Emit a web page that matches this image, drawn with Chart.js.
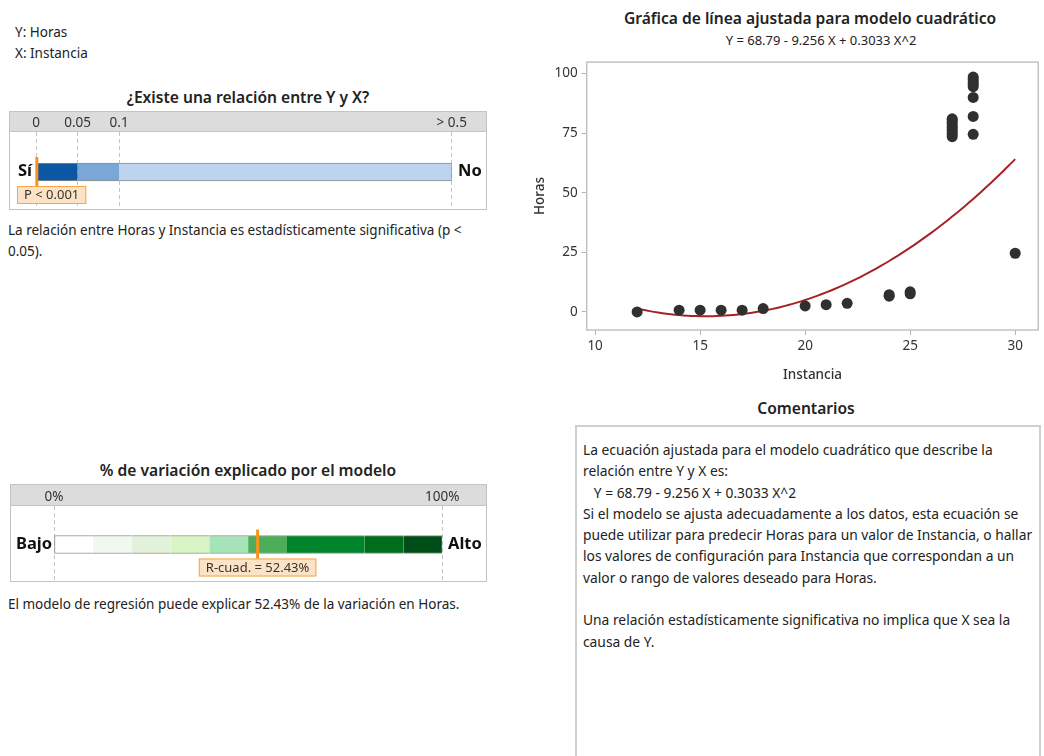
<!DOCTYPE html>
<html lang="es">
<head>
<meta charset="utf-8">
<script src="https://cdn.jsdelivr.net/npm/chart.js@4.4.1/dist/chart.umd.min.js"></script>
<style>
  body{margin:0;width:1044px;height:756px;overflow:hidden;background:#fff;position:relative;
       font-family:"Noto Sans","Open Sans",sans-serif;color:#222}
  .abs{position:absolute;white-space:nowrap}
  .t{font-size:13.5px;line-height:21px}
  .ttl{font-size:15.6px;font-weight:600;line-height:20px;text-align:center;color:#222}
  .box{position:absolute;box-sizing:border-box;border:1px solid #c3c3c3;overflow:hidden;background:#fff}
  .hdr{position:absolute;left:0;top:0;right:0;background:#dcdcdc;border-bottom:1px solid #c3c3c3}
  .box canvas{position:absolute;left:0;top:0}
  .side{position:absolute;font-weight:700;font-size:16.5px;line-height:20px;color:#111}
  #coment{position:absolute;left:575px;top:425px;width:466px;height:334px;box-sizing:border-box;
          border:2px solid #cfcfcf;padding:12px 0 0 6px;font-size:13.8px;line-height:21.3px;color:#222;
          white-space:nowrap}
</style>
</head>
<body>

<div class="abs t" style="left:15px;top:22px">Y: Horas<br>X: Instancia</div>

<div class="abs ttl" style="left:0;width:496px;top:87px">¿Existe una relación entre Y y X?</div>
<div class="box" style="left:9px;top:111px;width:478px;height:99px">
  <div class="hdr" style="height:19px"></div>
  <canvas id="pBar" width="476" height="100"></canvas>
</div>
<div class="side" style="left:18px;top:160px">Sí</div>
<div class="side" style="left:458px;top:160px">No</div>
<div class="abs t" style="left:8px;top:220px">La relación entre Horas y Instancia es estadísticamente significativa (p &lt;<br>0.05).</div>

<div class="abs ttl" style="left:0;width:496px;top:460px">% de variación explicado por el modelo</div>
<div class="box" style="left:10px;top:484px;width:477px;height:98px">
  <div class="hdr" style="height:20px"></div>
  <canvas id="r2Bar" width="475" height="98"></canvas>
</div>
<div class="side" style="left:16px;top:533px">Bajo</div>
<div class="side" style="left:448px;top:533px">Alto</div>
<div class="abs t" style="left:8px;top:594px">El modelo de regresión puede explicar 52.43% de la variación en Horas.</div>

<div class="abs ttl" style="left:560px;width:500px;top:8px">Gráfica de línea ajustada para modelo cuadrático</div>
<div class="abs" style="left:571px;width:500px;top:31px;font-size:13px;line-height:18px;text-align:center">Y = 68.79 - 9.256 X + 0.3033 X^2</div>
<canvas id="fit" width="514" height="340" style="position:absolute;left:530px;top:50px"></canvas>

<div class="abs ttl" style="left:576px;width:460px;top:398px">Comentarios</div>
<div id="coment">La ecuación ajustada para el modelo cuadrático que describe la<br>relación entre Y y X es:<br>&nbsp;&nbsp;&nbsp;Y = 68.79 - 9.256 X + 0.3033 X^2<br>Si el modelo se ajusta adecuadamente a los datos, esta ecuación se<br>puede utilizar para predecir Horas para un valor de Instancia, o hallar<br>los valores de configuración para Instancia que correspondan a un<br>valor o rango de valores deseado para Horas.<br><br>Una relación estadísticamente significativa no implica que X sea la<br>causa de Y.</div>

<script>
// Observed data: Instancia (X) and Horas (Y)
const instancia = [12, 14, 15, 16, 17, 18, 20, 21, 22, 24, 24, 25, 25,
                   27, 27, 27, 27, 27, 27, 27, 27, 27,
                   28, 28, 28, 28, 28, 28, 28, 28, 30];
const horas     = [0, 0.7, 0.7, 0.7, 0.7, 1.4, 2.5, 3.0, 3.6, 6.6, 7.2, 7.6, 8.4,
                   73.5, 74.5, 75.5, 76.5, 77.5, 78.5, 79.5, 80.5, 81.0,
                   74.5, 82.0, 90.0, 94.5, 95.5, 96.5, 97.5, 98.5, 24.6];

// Fitted quadratic model: Y = b0 + b1 X + b2 X^2
const fitCoef  = [68.79, -9.256, 0.3033];
const fitRange = [12, 30];

const xTicks = [10, 15, 20, 25, 30];
const yTicks = [0, 25, 50, 75, 100];

// p-value scale
const pTicks      = [0, 0.05, 0.1, 0.5];
const pTickLabels = ['0', '0.05', '0.1', '> 0.5'];
const pBands      = [0.05, 0.05, 0.4];
const pBandColors = ['#0b57a4', '#7aa6d8', '#bdd3ee'];
const pValue      = 0.001;
const pLabel      = 'P < 0.001';

// R-squared scale (%)
const r2Ticks      = [0, 100];
const r2TickLabels = ['0%', '100%'];
const r2Bands      = [10, 10, 10, 10, 10, 10, 20, 10, 10];
const r2BandColors = ['#ffffff', '#f1f8ef', '#e2f1da', '#d7f5c5', '#a6e3b9',
                      '#4dad5b', '#00842b', '#006d1d', '#004e17'];
const r2Value      = 52.43;

const FONT = '"Noto Sans","Open Sans",sans-serif';
Chart.defaults.font.family = FONT;
Chart.defaults.color = '#333';

// Orange indicator with its value label on the summary bars
const markerPlugin = {
  id: 'marker',
  afterDatasetsDraw(chart, args, o) {
    if (o.value === undefined) return;
    const ctx = chart.ctx;
    const bar = chart.getDatasetMeta(0).data[0];
    const top = bar.y - bar.height / 2, bot = bar.y + bar.height / 2;
    const x = chart.scales.x.getPixelForValue(o.value);
    ctx.save();
    ctx.strokeStyle = '#f7941d';
    ctx.lineWidth = 3;
    ctx.beginPath();
    ctx.moveTo(x, top - 6);
    ctx.lineTo(x, bot + 6);
    ctx.stroke();
    ctx.font = '13px ' + FONT;
    const w = ctx.measureText(o.label).width + 14, h = 18;
    let bx = Math.max(o.minLeft, x - w / 2);
    const by = bot + 5;
    ctx.fillStyle = '#fde3c6';
    ctx.fillRect(bx, by, w, h);
    ctx.strokeStyle = '#f7a545';
    ctx.lineWidth = 1;
    ctx.strokeRect(bx + 0.5, by + 0.5, w - 1, h - 1);
    ctx.fillStyle = '#333';
    ctx.textAlign = 'center';
    ctx.textBaseline = 'middle';
    ctx.fillText(o.label, bx + w / 2, by + h / 2 + 0.5);
    ctx.restore();
  }
};

function summaryBar(id, bands, colors, ticks, tickLabels, max, pad, hdrH, marker) {
  const last = bands.length - 1;
  return new Chart(document.getElementById(id), {
    type: 'bar',
    data: {
      labels: [''],
      datasets: bands.map((b, i) => ({
        data: [b],
        backgroundColor: colors[i],
        borderColor: '#8e8e8e',
        borderWidth: {top: 1, bottom: 1, left: i === 0 ? 1 : 0, right: i === last ? 1 : 0},
        borderSkipped: false,
        barThickness: 18,
        stack: 's'
      }))
    },
    options: {
      indexAxis: 'y',
      responsive: false, animation: false, devicePixelRatio: 1,
      layout: {padding: {left: pad[0], right: pad[1], top: 0, bottom: 0}},
      plugins: {legend: {display: false}, tooltip: {enabled: false}, marker: marker},
      scales: {
        x: {
          type: 'linear', position: 'top', min: 0, max: max, stacked: true,
          afterBuildTicks: s => { s.ticks = ticks.map(v => ({value: v})); },
          afterFit: s => { s.height = hdrH; },
          grid: {color: '#c4c4c4', drawTicks: false, lineWidth: 1},
          border: {display: false, dash: [4, 3]},
          ticks: {autoSkip: false, maxRotation: 0, padding: 1, color: '#333',
                  font: {size: 13.5}, callback: (v, i) => tickLabels[i]}
        },
        y: {display: false, stacked: true}
      }
    },
    plugins: [markerPlugin]
  });
}

summaryBar('pBar', pBands, pBandColors, pTicks, pTickLabels, 0.5, [26, 34.3], 20,
           {value: pValue, label: pLabel, minLeft: 7});
summaryBar('r2Bar', r2Bands, r2BandColors, r2Ticks, r2TickLabels, 100, [43, 43.7], 21,
           {value: r2Value, label: 'R-cuad. = ' + r2Value.toFixed(2) + '%', minLeft: 4});

// Scatter plot with fitted curve
const points = instancia.map((x, i) => ({x: x, y: horas[i]}));
const curve = [];
for (let x = fitRange[0]; x <= fitRange[1] + 1e-9; x += 0.2) {
  curve.push({x: x, y: fitCoef[0] + fitCoef[1] * x + fitCoef[2] * x * x});
}

const framePlugin = {
  id: 'frame',
  beforeDatasetsDraw(chart) {
    const a = chart.chartArea, ctx = chart.ctx;
    ctx.save();
    ctx.strokeStyle = '#c2c2c2';
    ctx.lineWidth = 1.5;
    ctx.strokeRect(a.left, a.top, a.right - a.left, a.bottom - a.top);
    ctx.restore();
  }
};

const axisCommon = {
  grid: {display: true, drawOnChartArea: false, drawTicks: true, tickLength: 5, color: '#b5b5b5'},
  border: {display: false},
};

new Chart(document.getElementById('fit'), {
  type: 'scatter',
  data: {
    datasets: [
      {data: points, pointRadius: 5.5, pointBackgroundColor: '#303030', pointBorderWidth: 0, order: 0},
      {data: curve, showLine: true, pointRadius: 0, borderColor: '#a52327', borderWidth: 2, order: 1}
    ]
  },
  options: {
    responsive: false, animation: false, devicePixelRatio: 1,
    layout: {padding: {left: 0, right: 5.7, top: 8.3, bottom: 0}},
    plugins: {legend: {display: false}, tooltip: {enabled: false}},
    scales: {
      x: Object.assign({}, axisCommon, {
        type: 'linear', min: 9.6, max: 31.1,
        afterBuildTicks: s => { s.ticks = xTicks.map(v => ({value: v})); },
        afterFit: s => { s.height = 60; },
        ticks: {color: '#333', font: {size: 13.5}, padding: 3, maxRotation: 0, autoSkip: false},
        title: {display: true, text: 'Instancia', color: '#333', font: {size: 13.5, weight: '500'},
                padding: {top: 4, bottom: 7}}
      }),
      y: Object.assign({}, axisCommon, {
        type: 'linear', min: -7.6, max: 104.8,
        afterBuildTicks: s => { s.ticks = yTicks.map(v => ({value: v})); },
        afterFit: s => { s.width = 56.7; },
        ticks: {color: '#333', font: {size: 13.5}, padding: 4, autoSkip: false},
        title: {display: true, text: 'Horas', color: '#333', font: {size: 13.5, weight: '500'},
                padding: {top: 2, bottom: 4}}
      })
    }
  },
  plugins: [framePlugin]
});
</script>
</body>
</html>
